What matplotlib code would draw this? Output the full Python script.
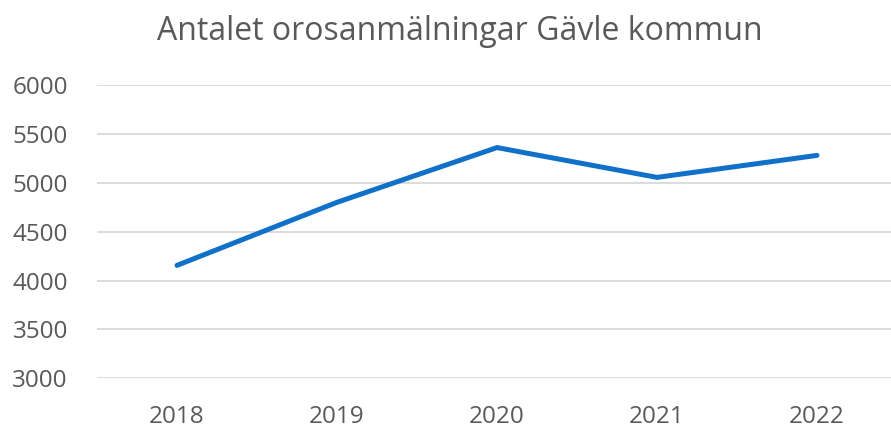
import matplotlib.pyplot as plt

# data
years = ['2018', '2019', '2020', '2021', '2022']
reports = [4155, 4800, 5360, 5055, 5280]
y_ticks = [3000, 3500, 4000, 4500, 5000, 5500, 6000]

plt.rcParams['font.family'] = ['Open Sans', 'DejaVu Sans']
text_col = '#595959'

fig = plt.figure(figsize=(8.91, 4.28), dpi=100)
ax = fig.add_axes([97/891, 1 - 378.3/428, 800/891, (378.3 - 85)/428])

x = range(len(years))
ax.plot(x, reports, color='#1170c8', lw=3.6, solid_capstyle='round',
        solid_joinstyle='miter', zorder=3)

ax.set_xlim(-0.5, len(years) - 0.5)
ax.set_ylim(y_ticks[0], y_ticks[-1])
ax.set_yticks(y_ticks)
ax.set_xticks(list(x))
ax.set_xticklabels(years)
ax.grid(axis='y', color='#d9d9d9', lw=1.3)
ax.set_axisbelow(True)
for s in ax.spines.values():
    s.set_visible(False)
ax.tick_params(axis='both', length=0, colors=text_col, labelsize=17.5)
ax.tick_params(axis='y', pad=21)
ax.tick_params(axis='x', pad=19)

fig.text(460/891, 1 - 31/428, 'Antalet orosanmälningar Gävle kommun',
         ha='center', va='center', fontsize=23, color=text_col)

fig.savefig('out.png', dpi=100)
